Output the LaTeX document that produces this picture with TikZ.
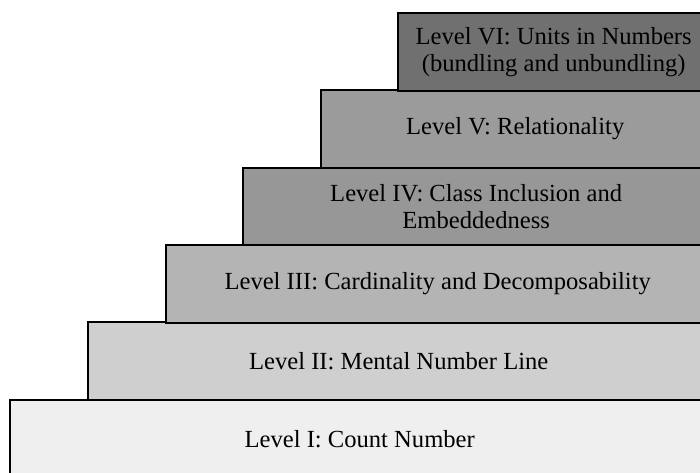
\documentclass[tikz,border=0pt]{standalone}
\usepackage{fontspec}
\setmainfont{Liberation Serif}
\usepackage{tikz}
\definecolor{lvone}{HTML}{EFEFEF}
\definecolor{lvtwo}{HTML}{CFCFCF}
\definecolor{lvthree}{HTML}{B4B4B4}
\definecolor{lvfour}{HTML}{979797}
\definecolor{lvfive}{HTML}{9B9B9B}
\definecolor{lvsix}{HTML}{707070}
\tikzset{
  level/.style={draw=black, line width=2.4pt, anchor=north west, minimum height=77.5pt,
    inner sep=0pt, align=center, text=black, font=\fontsize{24.6}{27}\selectfont}
}
\begin{document}
\begin{tikzpicture}[x=1pt, y=-1pt]
  \useasboundingbox (0,0) rectangle (700,472);
  \clip (0,0) rectangle (700,472);
  % staircase, bottom step first
  \node[level, fill=lvone,   minimum width=699pt] (lvI)   at (9,399)   {Level I: Count Number};
  \node[level, fill=lvtwo,   minimum width=621pt] (lvII)  at (87,321)  {Level II: Mental Number Line};
  \node[level, fill=lvthree, minimum width=543pt] (lvIII) at (165,244) {Level III: Cardinality and Decomposability};
  \node[level, fill=lvfour,  minimum width=466pt] (lvIV)  at (242,166.5) {Level IV: Class Inclusion and\\Embeddedness};
  \node[level, fill=lvfive,  minimum width=388pt] (lvV)   at (320,89)  {Level V: Relationality};
  \node[level, fill=lvsix,   minimum width=311pt] (lvVI)  at (397,12)  {Level VI: Units in Numbers\\(bundling and unbundling)};
\end{tikzpicture}
\end{document}
